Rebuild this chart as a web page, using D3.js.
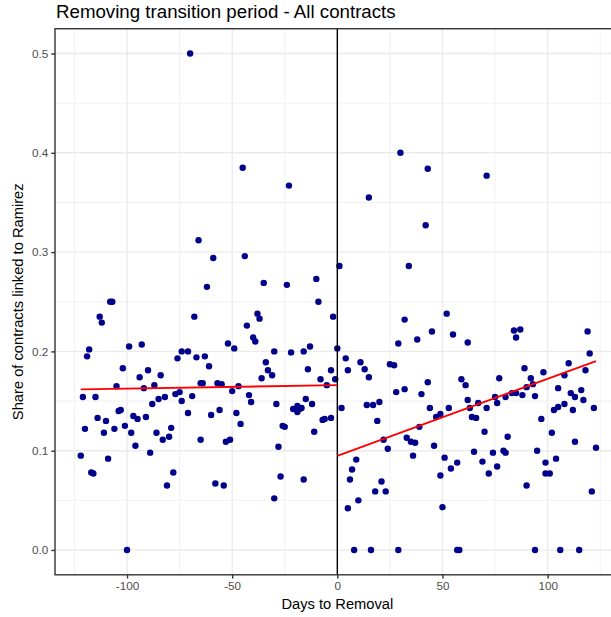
<!DOCTYPE html>
<html>
<head>
<meta charset="utf-8">
<script src="https://cdn.jsdelivr.net/npm/d3@7"></script>
<style>
  body { margin: 0; background: #fff; }
  text { font-family: "Liberation Sans", Arial, sans-serif; }
</style>
</head>
<body>
<script>
width = 611;
height = 617;

// days to removal / share linked to Ramirez
before_days = [-70, -45, -23, -66, -59, -44, -62, -35, -24, -10, -9, -108, -107, -113, -112, -68, -38, -37, -43, -2,
  -40, -39, -52, -49, -118, -119, -99, -93, -76, -74, -71, -67, -63, -30, -22, -16, -13, 0, -34, -61,
  -33, -31, -36, -14, -3, -8, -5, -1, -64, -57, -55, -47, -50, -42, -41, -29, -15, -12, -21, -19,
  -18, -17, -19, -56, -60, -48, -46, -26, -25, -7, -6, -3, -11, -53, -51, -28, -58, -54, -27, -16,
  -30, -102, -90, -94, -84, -105, -87, -92, -65, -121, -115, -77, -75, -82, -85, -69, -74, -88, -104, -103,
  -71, -114, -110, -97, -95, -91, -101, -120, -106, -111, -98, -79, -86, -80, -83, -65, -96, -122, -109, -89,
  -117, -116, -78, -81, -100];
before_share = [0.500, 0.385, 0.367, 0.312, 0.294, 0.296, 0.265, 0.269, 0.267, 0.273, 0.250, 0.250, 0.250, 0.235, 0.229, 0.235, 0.238, 0.233, 0.226, 0.235,
  0.214, 0.210, 0.208, 0.203, 0.202, 0.195, 0.205, 0.207, 0.193, 0.200, 0.200, 0.194, 0.195, 0.200, 0.199, 0.200, 0.205, 0.203, 0.189, 0.185,
  0.181, 0.176, 0.173, 0.182, 0.181, 0.172, 0.166, 0.172, 0.168, 0.168, 0.167, 0.165, 0.160, 0.156, 0.149, 0.147, 0.152, 0.147, 0.142, 0.145,
  0.142, 0.143, 0.139, 0.141, 0.136, 0.138, 0.127, 0.125, 0.124, 0.131, 0.132, 0.133, 0.119, 0.109, 0.111, 0.104, 0.067, 0.065, 0.074, 0.071,
  0.052, 0.183, 0.181, 0.174, 0.176, 0.165, 0.166, 0.163, 0.168, 0.154, 0.154, 0.157, 0.159, 0.154, 0.152, 0.155, 0.150, 0.147, 0.140, 0.141,
  0.138, 0.133, 0.130, 0.135, 0.132, 0.134, 0.125, 0.122, 0.122, 0.118, 0.118, 0.123, 0.118, 0.114, 0.111, 0.111, 0.105, 0.095, 0.092, 0.098,
  0.078, 0.077, 0.078, 0.065, 0.000];

after_days = [1, 30, 43, 15, 42, 34, 32, 52, 45, 55, 38, 29, 62, 4, 11, 71, 84, 87, 85, 119,
  120, 13, 5, 15, 25, 27, 28, 32, 43, 40, 59, 61, 62, 2, 14, 17, 20, 19, 44, 53,
  47, 49, 63, 64, 66, 39, 22, 33, 35, 37, 46, 24, 36, 51, 57, 54, 49, 65, 9, 7,
  6, 21, 18, 23, 10, 5, 50, 8, 16, 29, 57, 58, 110, 118, 89, 98, 108, 77, 92, 93,
  90, 105, 116, 111, 113, 117, 83, 85, 88, 80, 75, 94, 67, 76, 71, 108, 105, 103, 112, 122,
  97, 70, 81, 102, 113, 123, 74, 79, 80, 95, 69, 76, 72, 99, 104, 99, 101, 90, 121, 94,
  106, 115];
after_share = [0.286, 0.400, 0.384, 0.355, 0.327, 0.286, 0.232, 0.238, 0.220, 0.217, 0.212, 0.208, 0.209, 0.193, 0.189, 0.377, 0.221, 0.222, 0.214, 0.220,
  0.198, 0.182, 0.181, 0.174, 0.187, 0.186, 0.159, 0.162, 0.169, 0.157, 0.172, 0.166, 0.151, 0.143, 0.146, 0.146, 0.149, 0.130, 0.143, 0.143,
  0.134, 0.137, 0.143, 0.134, 0.133, 0.124, 0.111, 0.113, 0.109, 0.108, 0.105, 0.102, 0.095, 0.093, 0.088, 0.082, 0.075, 0.099, 0.091, 0.081,
  0.071, 0.069, 0.059, 0.059, 0.050, 0.042, 0.043, 0.000, 0.000, 0.000, 0.000, 0.000, 0.188, 0.181, 0.183, 0.179, 0.176, 0.173, 0.173, 0.167,
  0.164, 0.163, 0.161, 0.158, 0.154, 0.151, 0.158, 0.158, 0.156, 0.154, 0.154, 0.155, 0.148, 0.148, 0.143, 0.147, 0.144, 0.141, 0.141, 0.143,
  0.132, 0.119, 0.114, 0.118, 0.109, 0.103, 0.098, 0.100, 0.098, 0.100, 0.089, 0.084, 0.077, 0.088, 0.092, 0.077, 0.077, 0.065, 0.059, 0.000,
  0.000, 0.000];

// fitted red lines as drawn in the picture (end points of each side)
fit_before_days = [-122, 0];
fit_before_share = [0.1618, 0.1660];
fit_after_days = [0, 123];
fit_after_share = [0.0947, 0.1903];

x_ticks = [-100, -50, 0, 50, 100];
y_ticks = [0, 0.1, 0.2, 0.3, 0.4, 0.5];

function pair(xs, ys) {
  return xs.map(function(d, i) { return {x: d, y: ys[i]}; });
}
before = pair(before_days, before_share);
after = pair(after_days, after_share);
all_points = before.concat(after);
fits = [pair(fit_before_days, fit_before_share), pair(fit_after_days, fit_after_share)];

// ggplot style 5% expansion
function expand(ext) {
  var pad = (ext[1] - ext[0]) * 0.05;
  return [ext[0] - pad, ext[1] + pad];
}

panel = {left: 55, top: 28.7, bottom: 574.8, px_per_day: 2.103};
x_dom = expand(d3.extent(all_points, function(p) { return p.x; }));
panel.right = panel.left + (x_dom[1] - x_dom[0]) * panel.px_per_day;

x = d3.scaleLinear().domain(x_dom).range([panel.left, panel.right]);
y = d3.scaleLinear().domain(expand([0, 0.5])).range([panel.bottom, panel.top]);

svg = d3.select("body").append("svg")
  .attr("width", width)
  .attr("height", height);
svg.append("rect").attr("width", width).attr("height", height).attr("fill", "#fff");

// grid
x_minor = d3.range(-125, 126, 50);
y_minor = d3.range(0.05, 0.5, 0.1);
grid = svg.append("g");
grid.selectAll(".xm").data(x_minor).enter().append("line")
  .attr("x1", x).attr("x2", x).attr("y1", panel.top).attr("y2", panel.bottom)
  .attr("stroke", "#ebebeb").attr("stroke-width", 0.7);
grid.selectAll(".ym").data(y_minor).enter().append("line")
  .attr("x1", panel.left).attr("x2", panel.right).attr("y1", y).attr("y2", y)
  .attr("stroke", "#ebebeb").attr("stroke-width", 0.7);
grid.selectAll(".xM").data(x_ticks).enter().append("line")
  .attr("x1", x).attr("x2", x).attr("y1", panel.top).attr("y2", panel.bottom)
  .attr("stroke", "#ebebeb").attr("stroke-width", 1.4);
grid.selectAll(".yM").data(y_ticks).enter().append("line")
  .attr("x1", panel.left).attr("x2", panel.right).attr("y1", y).attr("y2", y)
  .attr("stroke", "#ebebeb").attr("stroke-width", 1.4);

// points
svg.append("g").selectAll("circle").data(all_points).enter().append("circle")
  .attr("cx", function(p) { return x(p.x); })
  .attr("cy", function(p) { return y(p.y); })
  .attr("r", 3.2)
  .attr("fill", "#00008b");

// vertical line at removal
svg.append("line")
  .attr("x1", x(0)).attr("x2", x(0)).attr("y1", panel.top).attr("y2", panel.bottom)
  .attr("stroke", "#000").attr("stroke-width", 1.4);

// fitted lines
line = d3.line().x(function(p) { return x(p.x); }).y(function(p) { return y(p.y); });
fits.forEach(function(f) {
  svg.append("path").attr("d", line(f))
    .attr("fill", "none").attr("stroke", "#ff0000").attr("stroke-width", 1.9);
});

// panel border
svg.append("rect")
  .attr("x", panel.left).attr("y", panel.top)
  .attr("width", panel.right - panel.left).attr("height", panel.bottom - panel.top)
  .attr("fill", "none").attr("stroke", "#333333").attr("stroke-width", 1.4);

// axes
x_axis = svg.append("g").attr("transform", "translate(0," + panel.bottom + ")")
  .call(d3.axisBottom(x).tickValues(x_ticks).tickSize(3.7).tickPadding(3).tickFormat(d3.format("d")));
y_axis = svg.append("g").attr("transform", "translate(" + panel.left + ",0)")
  .call(d3.axisLeft(y).tickValues(y_ticks).tickSize(3.7).tickPadding(3).tickFormat(d3.format(".1f")));
[x_axis, y_axis].forEach(function(ax) {
  ax.select(".domain").remove();
  ax.selectAll(".tick line").attr("stroke", "#333333").attr("stroke-width", 1.4);
  ax.selectAll(".tick text").attr("fill", "#4d4d4d").style("font-size", "11.7px")
    .style("font-family", "'Liberation Sans', Arial, sans-serif");
});
x_axis.selectAll(".tick text").text(function(d) { return d < 0 ? "-" + Math.abs(d) : d; });

// titles
svg.append("text").attr("x", panel.left + 1).attr("y", 17.5)
  .style("font-size", "18.7px").attr("fill", "#000")
  .text("Removing transition period - All contracts");
svg.append("text").attr("x", x(0)).attr("y", 608.5)
  .attr("text-anchor", "middle").style("font-size", "14.7px").attr("fill", "#000")
  .text("Days to Removal");
svg.append("text")
  .attr("transform", "translate(23," + ((panel.top + panel.bottom) / 2) + ") rotate(-90)")
  .attr("text-anchor", "middle").style("font-size", "14.7px").attr("fill", "#000")
  .text("Share of contracts linked to Ramirez");
</script>
</body>
</html>
